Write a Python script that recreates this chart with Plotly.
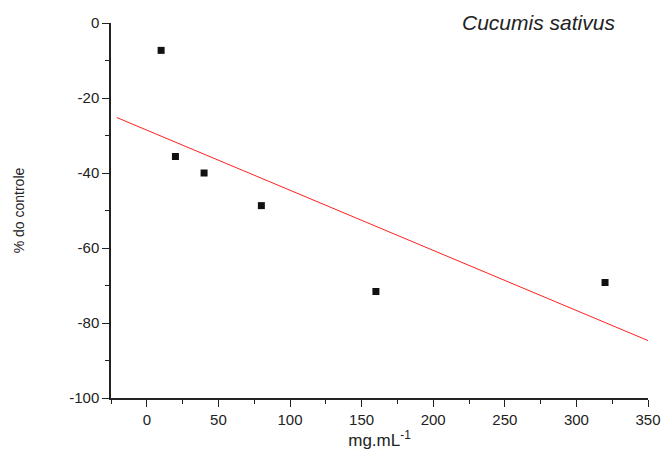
import numpy as np
import plotly.graph_objects as go

conc = [10, 20, 40, 80, 160, 320]
pct_controle = [-7.3, -35.6, -40.0, -48.7, -71.6, -69.2]
x_ticks = [0, 50, 100, 150, 200, 250, 300, 350]
y_ticks = [0, -20, -40, -60, -80, -100]
y_tick_labels = ["0", "-20", "-40", "-60", "-80", "-100"]

slope, intercept = np.polyfit(conc, pct_controle, 1)
fit_x = np.array([-21, 350])
fit_y = slope * fit_x + intercept

fig = go.Figure()
fig.add_trace(go.Scatter(x=fit_x, y=fit_y, mode="lines",
                         line=dict(color="#ff2020", width=1), showlegend=False))
fig.add_trace(go.Scatter(x=conc, y=pct_controle, mode="markers",
                         marker=dict(symbol="square", size=7, color="#111111"),
                         showlegend=False))

font = "Liberation Sans, Arial, sans-serif"
axis_common = dict(ticks="outside", ticklen=7, tickwidth=1.3, tickcolor="#222",
                   showline=True, linecolor="#222", linewidth=1.5, showgrid=False,
                   zeroline=False, automargin=False, tickfont=dict(size=15))
fig.update_layout(
    width=662, height=458,
    margin=dict(l=111, r=14, t=23, b=60),
    plot_bgcolor="white", paper_bgcolor="white",
    font=dict(family=font, color="#222222", size=13),
    xaxis=dict(range=[-25, 350], tickvals=x_ticks,
               minor=dict(dtick=25, tick0=0, ticks="outside", ticklen=4, tickcolor="#222", tickwidth=1.3),
               title=dict(text="mg.mL<sup>-1</sup>", font=dict(size=17), standoff=6),
               **axis_common),
    yaxis=dict(range=[-100, 0], tickvals=y_ticks, ticktext=y_tick_labels,
               minor=dict(dtick=10, tick0=0, ticks="outside", ticklen=4, tickcolor="#222", tickwidth=1.3),
               title=dict(text="% do controle", font=dict(size=14), standoff=41),
               **axis_common),
    annotations=[dict(text="<i>Cucumis sativus</i>", xref="paper", yref="paper",
                      x=1.0 - (648 - 617) / 537, y=1.0 + (23 - 22) / 375,
                      xanchor="right", yanchor="middle",
                      showarrow=False, font=dict(size=21, color="#222"))],
)
fig.write_html("out.html", config={"displayModeBar": False},
               post_script="document.body.style.margin='0';document.body.style.overflow='hidden';")
